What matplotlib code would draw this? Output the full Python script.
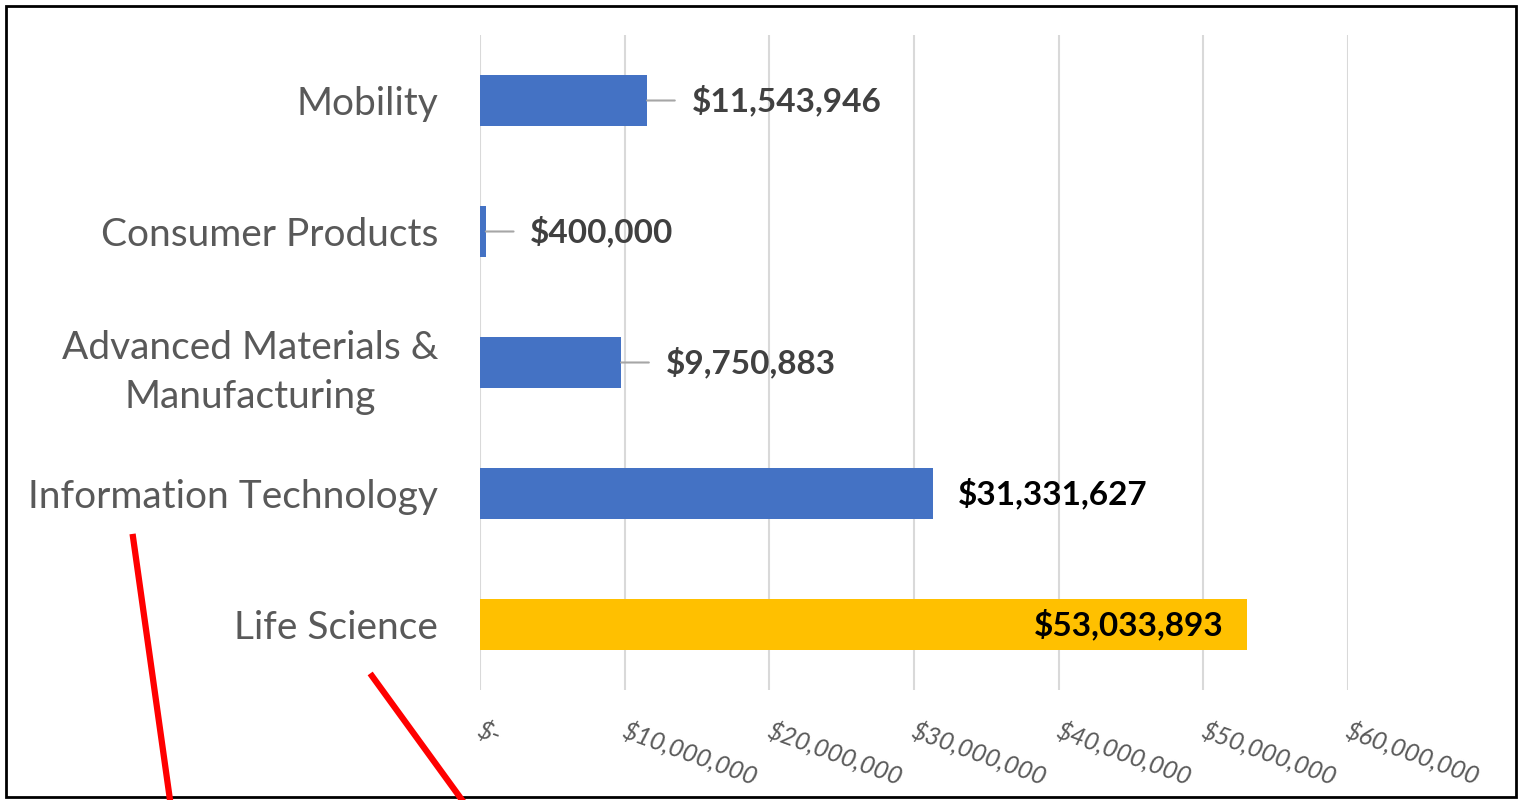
import matplotlib.pyplot as plt
from matplotlib.lines import Line2D
from matplotlib.patches import Rectangle

categories = ['Mobility', 'Consumer Products', 'Advanced Materials &\nManufacturing',
              'Information Technology', 'Life Science']
values = [11543946, 400000, 9750883, 31331627, 53033893]
bar_colors = ['#4472c4', '#4472c4', '#4472c4', '#4472c4', '#ffc000']
label_colors = ['#404040', '#404040', '#404040', 'black', 'black']
x_ticks = [0, 10e6, 20e6, 30e6, 40e6, 50e6, 60e6]
x_tick_labels = ['$-', '$10,000,000', '$20,000,000', '$30,000,000',
                 '$40,000,000', '$50,000,000', '$60,000,000']

plt.rcParams['font.family'] = ['Lato', 'DejaVu Sans']

fig = plt.figure(figsize=(15.23, 8), dpi=100)
ax = fig.add_axes([480 / 1523, 1 - 690 / 800, (1348 - 480) / 1523, 655 / 800])

ypos = list(range(len(categories)))[::-1]
ax.barh(ypos, values, height=0.39, color=bar_colors, zorder=3)
ax.set_xlim(0, 60e6)
ax.set_ylim(-0.5, 4.5)

ax.set_yticks(ypos)
ax.set_yticklabels(categories, fontsize=28, color='#595959', linespacing=1.45)
for lbl in ax.get_yticklabels():
    lbl.set_multialignment('center')
ax.tick_params(axis='y', length=0, pad=30)

ax.set_xticks(x_ticks)
ax.set_xticklabels([])
ax.tick_params(axis='x', length=0)
for xt, txt in zip(x_ticks, x_tick_labels):
    ax.annotate(txt, xy=(xt, 0), xycoords=('data', 'axes fraction'),
                xytext=(2, -20), textcoords='offset points',
                ha='left', va='top', rotation=-20, rotation_mode='anchor',
                fontsize=18, style='italic', color='#595959')

ax.grid(axis='x', color='#d9d9d9', linewidth=1.5, zorder=0)
for s in ax.spines.values():
    s.set_visible(False)

# value labels
for i, (y, v) in enumerate(zip(ypos, values)):
    txt = f'${v:,.0f}'
    if i == 4:
        ax.annotate(txt, xy=(v, y), xytext=(-17, 0), textcoords='offset points',
                    ha='right', va='center', fontsize=24, fontweight='bold',
                    color=label_colors[i], zorder=4)
    elif i == 3:
        ax.annotate(txt, xy=(v, y), xytext=(18, 0), textcoords='offset points',
                    ha='left', va='center', fontsize=24, fontweight='bold',
                    color=label_colors[i], zorder=4)
    else:
        ax.annotate(txt, xy=(v, y), xytext=(32, 0), textcoords='offset points',
                    ha='left', va='center', fontsize=24, fontweight='bold',
                    color=label_colors[i], zorder=4)
        # leader line
        ax.annotate('', xy=(v, y), xytext=(20, 0), textcoords='offset points',
                    arrowprops=dict(arrowstyle='-', color='#a6a6a6', lw=1.5,
                                    shrinkA=0, shrinkB=0))

# red annotation strokes
W, H = 1523, 800
fig.add_artist(Line2D([133 / W, 170 / W], [1 - 537 / H, 1 - 800 / H],
                      color='#ff0000', linewidth=4.5))
fig.add_artist(Line2D([372 / W, 462 / W], [1 - 676 / H, 1 - 800 / H],
                      color='#ff0000', linewidth=4.5))

# frame
fig.add_artist(Rectangle((6 / W, 1 - 797 / H), (1516 - 6) / W, (797 - 6) / H,
                         fill=False, edgecolor='black', linewidth=2,
                         transform=fig.transFigure))

fig.savefig('out.png', dpi=100)
